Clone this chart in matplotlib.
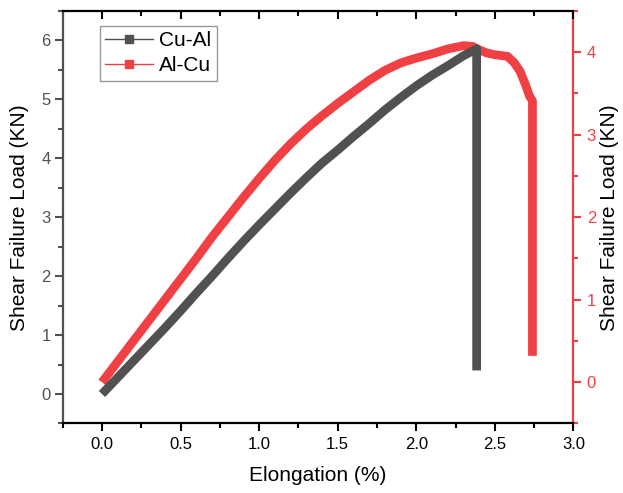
import matplotlib.pyplot as plt
from matplotlib.lines import Line2D
from matplotlib.ticker import MultipleLocator

plt.rcParams['font.family'] = ['Liberation Sans', 'DejaVu Sans']

# Cu-Al: elongation (%) vs shear failure load (KN), left axis
cual_x = [0.0, 0.1, 0.2, 0.3, 0.4, 0.5, 0.6, 0.7, 0.8, 0.9, 1.0, 1.1, 1.2, 1.3,
          1.4, 1.5, 1.6, 1.7, 1.8, 1.9, 2.0, 2.1, 2.2, 2.3, 2.35, 2.384, 2.384]
cual_y = [0.0, 0.28, 0.56, 0.84, 1.12, 1.41, 1.71, 2.0, 2.3, 2.59, 2.87, 3.14, 3.41, 3.67,
          3.92, 4.14, 4.37, 4.59, 4.82, 5.03, 5.23, 5.41, 5.57, 5.74, 5.81, 5.86, 0.4]

# Al-Cu: elongation (%) vs shear failure load (KN), right axis
alcu_x = [0.0, 0.1, 0.2, 0.3, 0.4, 0.5, 0.6, 0.7, 0.8, 0.9, 1.0, 1.1, 1.2, 1.3,
          1.4, 1.5, 1.6, 1.7, 1.8, 1.9, 2.0, 2.1, 2.2, 2.3, 2.36, 2.4, 2.45, 2.5,
          2.58, 2.62, 2.66, 2.7, 2.72, 2.739, 2.739]
alcu_y = [0.0, 0.25, 0.5, 0.75, 1.0, 1.25, 1.5, 1.76, 2.0, 2.24, 2.47, 2.69, 2.89, 3.07,
          3.23, 3.38, 3.52, 3.66, 3.78, 3.87, 3.93, 3.98, 4.04, 4.08, 4.07, 4.03, 3.99, 3.97,
          3.95, 3.88, 3.77, 3.58, 3.47, 3.41, 0.32]

GRAY = '#515151'
RED = '#f04044'

fig = plt.figure(figsize=(6.23, 4.93), dpi=100)
ax = fig.add_axes([0.1006, 0.141, 0.8199, 0.8367])
ax2 = ax.twinx()

ax.plot(cual_x, cual_y, color=GRAY, lw=6.3, solid_capstyle='butt',
        solid_joinstyle='round', zorder=3)
ax2.plot(alcu_x, alcu_y, color=RED, lw=6.3, solid_capstyle='butt',
         solid_joinstyle='round', zorder=2)

ax.set_xlim(-0.25, 3.0)
ax.set_ylim(-0.5, 6.5)
ax2.set_ylim(-0.5, 4.5)

ax.xaxis.set_major_locator(MultipleLocator(0.5))
ax.xaxis.set_minor_locator(MultipleLocator(0.25))
ax.yaxis.set_major_locator(MultipleLocator(1))
ax.yaxis.set_minor_locator(MultipleLocator(0.5))
ax2.yaxis.set_major_locator(MultipleLocator(1))
ax2.yaxis.set_minor_locator(MultipleLocator(0.5))

# spines
for s in ['top', 'bottom']:
    ax.spines[s].set_linewidth(1.6)
    ax.spines[s].set_color('black')
ax.spines['left'].set_color(GRAY)
ax.spines['left'].set_linewidth(1.6)
ax.spines['right'].set_visible(False)
ax2.spines['right'].set_color(RED)
ax2.spines['right'].set_linewidth(1.6)
for s in ['left', 'top', 'bottom']:
    ax2.spines[s].set_visible(False)

ax.tick_params(axis='x', which='both', direction='out', labelsize=12,
               colors='black', width=1.5, pad=4)
ax.tick_params(axis='x', which='major', length=5.5)
ax.tick_params(axis='x', which='minor', length=3.5)
ax.tick_params(axis='y', which='both', direction='out', labelsize=12,
               colors=GRAY, width=1.5, pad=3)
ax.tick_params(axis='y', which='major', length=5.5)
ax.tick_params(axis='y', which='minor', length=3.5)
ax2.tick_params(axis='y', which='both', direction='out', labelsize=12,
                colors=RED, width=1.5, pad=4)
ax2.tick_params(axis='y', which='major', length=5.5)
ax2.tick_params(axis='y', which='minor', length=3.5)

# inward ticks along the top edge, no labels
top = ax.secondary_xaxis('top')
top.xaxis.set_major_locator(MultipleLocator(0.5))
top.xaxis.set_minor_locator(MultipleLocator(0.25))
top.spines['top'].set_visible(False)
top.tick_params(axis='x', which='both', direction='in', labeltop=False,
                colors='black', width=1.5)
top.tick_params(axis='x', which='major', length=5.5)
top.tick_params(axis='x', which='minor', length=3.5)

ax.set_xlabel('Elongation (%)', fontsize=15)
ax.xaxis.set_label_coords(0.5, -0.103)
ax.set_ylabel('Shear Failure Load (KN)', fontsize=15, labelpad=9)
ax2.set_ylabel('Shear Failure Load (KN)', fontsize=15, labelpad=3, color='black')

handles = [
    Line2D([], [], color=GRAY, lw=1, marker='s', markersize=6, label='Cu-Al'),
    Line2D([], [], color=RED, lw=1, marker='s', markersize=6, label='Al-Cu'),
]
leg = ax.legend(handles=handles, loc='upper left', bbox_to_anchor=(0.073, 0.9636),
                fontsize=15, frameon=True, fancybox=False, edgecolor='#808080',
                handlelength=2.3, handletextpad=0.3, borderpad=0.25,
                labelspacing=0.3, borderaxespad=0)
leg.get_frame().set_linewidth(1.0)
ax.set_zorder(ax2.get_zorder() + 1)
ax.patch.set_visible(False)

fig.savefig('out.png', dpi=100)
